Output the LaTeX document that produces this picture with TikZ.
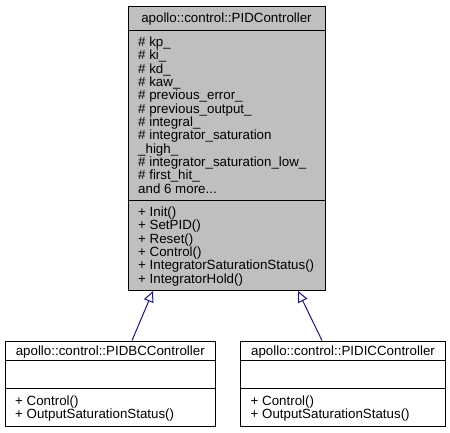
\documentclass[tikz,border=0pt]{standalone}
\usepackage{fontspec}
\setmainfont{Liberation Sans}
\usetikzlibrary{arrows.meta}
\definecolor{grey75}{RGB}{191,191,191}
\definecolor{edgeblue}{RGB}{25,25,112}
\begin{document}
\begin{tikzpicture}[x=1bp,y=-1bp,
  classbox/.style={draw=black,line width=1bp,rectangle,inner sep=0pt,anchor=north west},
  sepline/.style={draw=black,line width=1bp},
  txt/.style={inner sep=0pt,font=\fontsize{13.33bp}{13.33bp}\selectfont},
  inh/.style={draw=edgeblue,line width=1bp,-{Triangle[open,length=11bp,width=10bp]}}]
\useasboundingbox (0,0) rectangle (450,432);
% parent class
\node[classbox,fill=grey75,minimum width=197bp,minimum height=284bp] (pid) at (127.5,6) {};
\draw[sepline] (pid.west |- 0,30) -- (pid.east |- 0,30);
\draw[sepline] (pid.west |- 0,200) -- (pid.east |- 0,200);
\node[txt,anchor=base] (pidt) at (pid.north |- 0,22.8) {apollo::control::PIDController};
\foreach \t [count=\i from 0] in {{\# kp\_},{\# ki\_},{\# kd\_},{\# kaw\_},{\# previous\_error\_},{\# previous\_output\_},{\# integral\_},{\# integrator\_saturation},{\_high\_},{\# integrator\_saturation\_low\_},{\# first\_hit\_},{and 6 more{.}{.}{.}}}
  \node[txt,anchor=base west] (pida\i) at (138,46.4+13.33*\i) {\t};
\foreach \t [count=\i from 0] in {{+ Init()},{+ SetPID()},{+ Reset()},{+ Control()},{+ IntegratorSaturationStatus()},{+ IntegratorHold()}}
  \node[txt,anchor=base west] (pidm\i) at (138,216.4+13.33*\i) {\t};
% child classes
\node[classbox,fill=white,minimum width=210.5bp,minimum height=85.2bp] (bc) at (4.5,340.5) {};
\node[classbox,fill=white,minimum width=205bp,minimum height=85.2bp] (ic) at (240,340.5) {};
\foreach \b in {bc,ic}{
  \draw[sepline] (\b.west |- 0,360.6) -- (\b.east |- 0,360.6);
  \draw[sepline] (\b.west |- 0,388) -- (\b.east |- 0,388);
}
\node[txt,anchor=base] (bct) at (bc.north |- 0,355.3) {apollo::control::PIDBCController};
\node[txt,anchor=base] (ict) at (ic.north |- 0,355.3) {apollo::control::PIDICController};
\node[txt,anchor=base west] (bcm0) at (15,405) {+ Control()};
\node[txt,anchor=base west] (bcm1) at (15,418.3) {+ OutputSaturationStatus()};
\node[txt,anchor=base west] (icm0) at (250.5,405) {+ Control()};
\node[txt,anchor=base west] (icm1) at (250.5,418.3) {+ OutputSaturationStatus()};
% inheritance arrows
\draw[inh] ([xshift=127.5bp]bc.north west) -- ([xshift=25.5bp]pid.south west);
\draw[inh] ([xshift=82bp]ic.north west) -- ([xshift=170.5bp]pid.south west);
\end{tikzpicture}
\end{document}
